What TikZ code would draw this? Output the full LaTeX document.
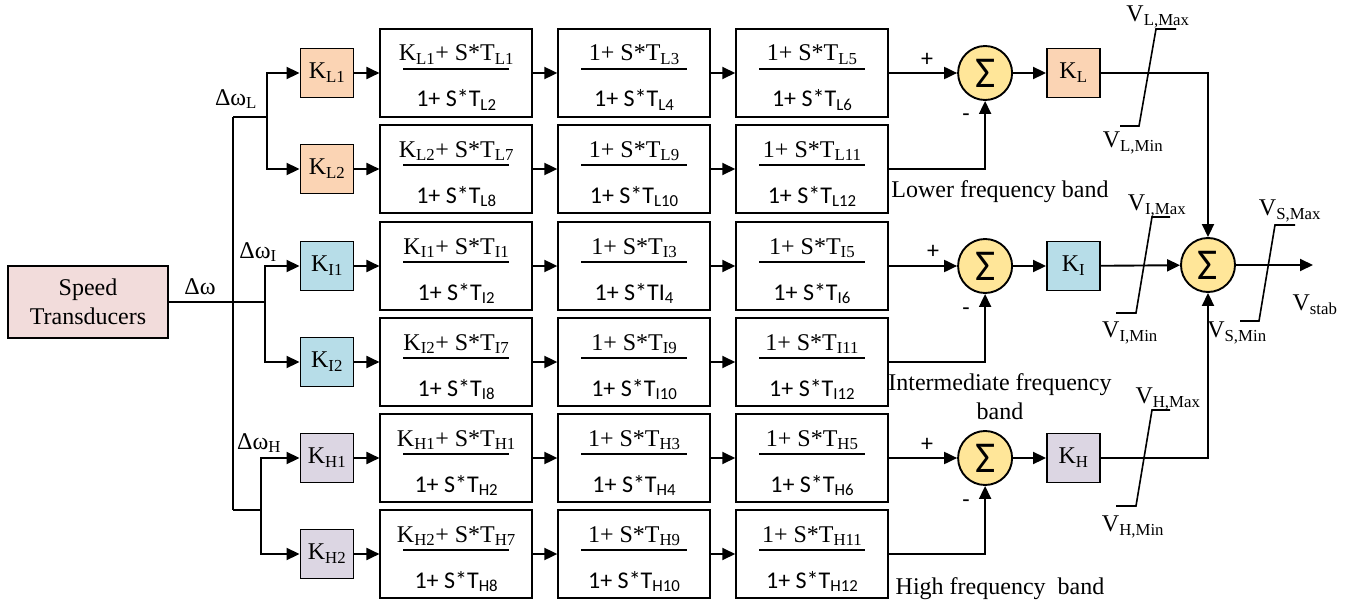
\documentclass[tikz,border=0pt]{standalone}
\usepackage{fontspec}
\setmainfont{Liberation Serif}
\newfontfamily\calibri{Carlito}
\usepackage{xcolor}
\usepackage{tikz}
\usetikzlibrary{arrows.meta,positioning}

\definecolor{stfill}{HTML}{F2DCDB}
\definecolor{lowfill}{HTML}{FBD4B4}
\definecolor{midfill}{HTML}{B7DDE8}
\definecolor{highfill}{HTML}{DCD6E3}
\definecolor{sumfill}{HTML}{FFE699}

\newcommand{\sbs}[1]{\textsubscript{#1}}
% numerator, bar, denominator of one lead-lag block
\newcommand{\leadlag}[2]{%
  \vbox{\hbox to 106pt{\hss#1\hss\rule[-5pt]{0pt}{33pt}}%
    \kern2.2pt\hrule height1.8pt\kern19pt
    \hbox to 106pt{\hss{\calibri#2}\hss\rule[-6pt]{0pt}{24pt}}}}

\begin{document}
\begin{tikzpicture}[
    x=1pt, y=-1pt,
    >={Triangle[length=13pt,width=12pt]},
    line width=1.9pt,
    node distance=24pt,
    every node/.style={font=\fontsize{24}{29}\selectfont},
    gain/.style={draw, minimum width=53pt, minimum height=49pt, inner sep=0pt},
    lead/.style={draw, minimum width=152pt, minimum height=88pt, inner sep=0pt},
    sum/.style={draw, circle, fill=sumfill, minimum size=54pt, inner sep=0pt,
                font=\fontsize{44}{44}\selectfont\calibri},
    sign/.style={font=\fontsize{24}{24}\selectfont\calibri},
    limiter/.style={line width=1.6pt}
]
    \useasboundingbox (0,0) rectangle (1352,607);

    \node[draw, fill=stfill, minimum width=160pt, minimum height=72pt,
          align=center] (speed) at (88,302) {Speed\\Transducers};

    % gains
    \node[gain, fill=lowfill]  (kL1) at (327,73)  {K\sbs{L1}};
    \node[gain, fill=lowfill]  (kL2) at (327,169) {K\sbs{L2}};
    \node[gain, fill=midfill]  (kI1) at (327,266) {K\sbs{I1}};
    \node[gain, fill=midfill]  (kI2) at (327,362) {K\sbs{I2}};
    \node[gain, fill=highfill] (kH1) at (327,458) {K\sbs{H1}};
    \node[gain, fill=highfill] (kH2) at (327,554) {K\sbs{H2}};

    % lead-lag stages, lower band
    \node[lead, right=25pt of kL1] (L11)
        {\leadlag{K\sbs{L1}+ S*T\sbs{L1}}{1+ S*T\sbs{L2}}};
    \node[lead, right=of L11] (L12)
        {\leadlag{1+ S*T\sbs{L3}}{1+ S*T\sbs{L4}}};
    \node[lead, right=of L12] (L13)
        {\leadlag{1+ S*T\sbs{L5}}{1+ S*T\sbs{L6}}};
    \node[lead, right=25pt of kL2] (L21)
        {\leadlag{K\sbs{L2}+ S*T\sbs{L7}}{1+ S*T\sbs{L8}}};
    \node[lead, right=of L21] (L22)
        {\leadlag{1+ S*T\sbs{L9}}{1+ S*T\sbs{L10}}};
    \node[lead, right=of L22] (L23)
        {\leadlag{1+ S*T\sbs{L11}}{1+ S*T\sbs{L12}}};

    % intermediate band
    \node[lead, right=25pt of kI1] (I11)
        {\leadlag{K\sbs{I1}+ S*T\sbs{I1}}{1+ S*T\sbs{I2}}};
    \node[lead, right=of I11] (I12)
        {\leadlag{1+ S*T\sbs{I3}}{1+ S*TI\sbs{4}}};
    \node[lead, right=of I12] (I13)
        {\leadlag{1+ S*T\sbs{I5}}{1+ S*T\sbs{I6}}};
    \node[lead, right=25pt of kI2] (I21)
        {\leadlag{K\sbs{I2}+ S*T\sbs{I7}}{1+ S*T\sbs{I8}}};
    \node[lead, right=of I21] (I22)
        {\leadlag{1+ S*T\sbs{I9}}{1+ S*T\sbs{I10}}};
    \node[lead, right=of I22] (I23)
        {\leadlag{1+ S*T\sbs{I11}}{1+ S*T\sbs{I12}}};

    % high band
    \node[lead, right=25pt of kH1] (H11)
        {\leadlag{K\sbs{H1}+ S*T\sbs{H1}}{1+ S*T\sbs{H2}}};
    \node[lead, right=of H11] (H12)
        {\leadlag{1+ S*T\sbs{H3}}{1+ S*T\sbs{H4}}};
    \node[lead, right=of H12] (H13)
        {\leadlag{1+ S*T\sbs{H5}}{1+ S*T\sbs{H6}}};
    \node[lead, right=25pt of kH2] (H21)
        {\leadlag{K\sbs{H2}+ S*T\sbs{H7}}{1+ S*T\sbs{H8}}};
    \node[lead, right=of H21] (H22)
        {\leadlag{1+ S*T\sbs{H9}}{1+ S*T\sbs{H10}}};
    \node[lead, right=of H22] (H23)
        {\leadlag{1+ S*T\sbs{H11}}{1+ S*T\sbs{H12}}};

    % summing points and band gains
    \node[sum, right=68pt of L13] (sL) {Σ};
    \node[sum, right=68pt of I13] (sI) {Σ};
    \node[sum, right=68pt of H13] (sH) {Σ};
    \node[gain, fill=lowfill,  right=33pt of sL] (kL) {K\sbs{L}};
    \node[gain, fill=midfill,  right=33pt of sI] (kI) {K\sbs{I}};
    \node[gain, fill=highfill, right=33pt of sH] (kH) {K\sbs{H}};
    \node[sum] (sS) at (1208,265) {Σ};
    \coordinate (out) at (1313,265);

    \node[sign] (pL) at (927,60)  {+};
    \node[sign] (mL) at (966,118) {-};
    \node[sign] (pI) at (933,252) {+};
    \node[sign] (mI) at (966,312) {-};
    \node[sign] (pH) at (927,445) {+};
    \node[sign] (mH) at (966,504) {-};

    % input bus
    \coordinate (busL)  at (233,117);
    \coordinate (busH)  at (233,510);
    \coordinate (forkL) at (267,117);
    \coordinate (forkI) at (265,302);
    \coordinate (forkH) at (261,510);
    \draw (busL) -- (busH);
    \draw (speed.east) -- (forkI);
    \draw (busL) -- (forkL);
    \draw (busH) -- (forkH);
    \draw[->] (forkL) |- (kL1);
    \draw[->] (forkL) |- (kL2);
    \draw[->] (forkI) |- (kI1);
    \draw[->] (forkI) |- (kI2);
    \draw[->] (forkH) |- (kH1);
    \draw[->] (forkH) |- (kH2);

    \node (dw)  at (200,287) {Δω};
    \node (dwL) at (236,99)  {Δω\sbs{L}};
    \node (dwI) at (258,252) {Δω\sbs{I}};
    \node (dwH) at (259,443) {Δω\sbs{H}};

    % chains
    \draw[->] (kL1) -- (L11); \draw[->] (L11) -- (L12); \draw[->] (L12) -- (L13);
    \draw[->] (kL2) -- (L21); \draw[->] (L21) -- (L22); \draw[->] (L22) -- (L23);
    \draw[->] (kI1) -- (I11); \draw[->] (I11) -- (I12); \draw[->] (I12) -- (I13);
    \draw[->] (kI2) -- (I21); \draw[->] (I21) -- (I22); \draw[->] (I22) -- (I23);
    \draw[->] (kH1) -- (H11); \draw[->] (H11) -- (H12); \draw[->] (H12) -- (H13);
    \draw[->] (kH2) -- (H21); \draw[->] (H21) -- (H22); \draw[->] (H22) -- (H23);

    \draw[->] (L13) -- (sL);
    \draw[->] (L23) -| (sL);
    \draw[->] (I13) -- (sI);
    \draw[->] (I23) -| (sI);
    \draw[->] (H13) -- (sH);
    \draw[->] (H23) -| (sH);
    \draw[->] (sL) -- (kL);
    \draw[->] (sI) -- (kI);
    \draw[->] (sH) -- (kH);
    \draw[->] (kL) -| (sS);
    \draw[->] (kI) -- (sS);
    \draw[->] (kH) -| (sS);
    \draw[->] (sS) -- (out);

    % limiters
    \draw[limiter] (1120,126) -- (1139,126) -- (1156,29)  -- (1176,29);
    \draw[limiter] (1116,313) -- (1136,313) -- (1152,217) -- (1170,217);
    \draw[limiter] (1116,506) -- (1136,506) -- (1152,410) -- (1170,410);
    \draw[limiter] (1240,321) -- (1259,321) -- (1275,225) -- (1295,225);

    \node (vLmax) at (1158,17)  {V\sbs{L,Max}};
    \node (vLmin) at (1133,143) {V\sbs{L,Min}};
    \node (vImax) at (1157,206) {V\sbs{I,Max}};
    \node (vImin) at (1130,333) {V\sbs{I,Min}};
    \node (vHmax) at (1168,399) {V\sbs{H,Max}};
    \node (vHmin) at (1133,527) {V\sbs{H,Min}};
    \node (vSmax) at (1290,211) {V\sbs{S,Max}};
    \node (vSmin) at (1237,333) {V\sbs{S,Min}};
    \node (vstab) at (1315,305) {V\sbs{stab}};

    \node (bandL) at (1000,192) {Lower frequency band};
    \node[align=center] (bandI) at (1000,397) {Intermediate frequency\\band};
    \node (bandH) at (1000,589) {High frequency\ \ band};
\end{tikzpicture}
\end{document}
